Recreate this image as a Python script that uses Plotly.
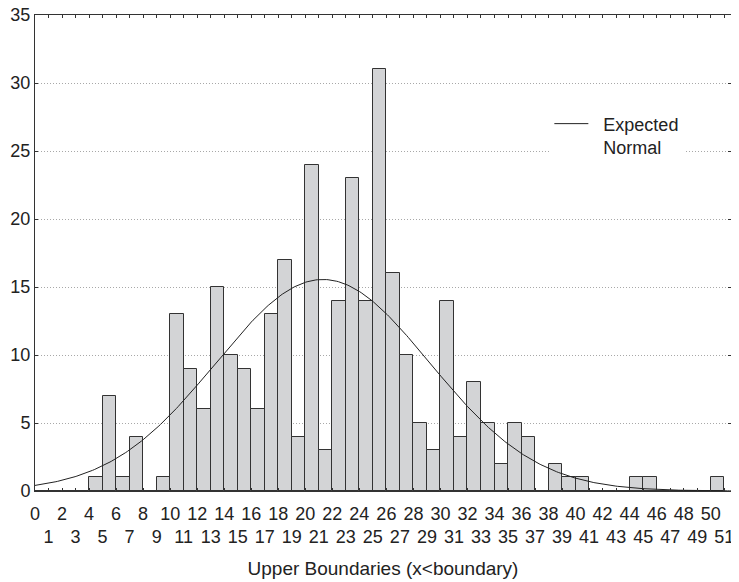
import numpy as np
import plotly.graph_objects as go

# Histogram: upper boundaries and counts (bin = [upper-1, upper))
upper_bounds = list(range(1, 52))
counts = [0, 0, 0, 0, 1, 7, 1, 4, 0, 1,
          13, 9, 6, 15, 10, 9, 6, 13, 17, 4,
          24, 3, 14, 23, 14, 31, 16, 10, 5, 3,
          14, 4, 8, 5, 2, 5, 4, 0, 2, 1,
          1, 0, 0, 0, 1, 1, 0, 0, 0, 0,
          1]
tick_values = list(range(0, 52))
tick_labels = [str(v) if v % 2 == 0 else "<br>" + str(v) for v in tick_values]
y_ticks = [0, 5, 10, 15, 20, 25, 30, 35]

# Expected normal parameters
normal_mean = 21.3
normal_sd = 7.9
n_total = sum(counts)
bin_width = 1.0

bar_x = [u - bin_width / 2 for u in upper_bounds]
curve_x = np.linspace(0, 51.5, 400)
curve_y = n_total * bin_width / (normal_sd * np.sqrt(2 * np.pi)) * np.exp(
    -((curve_x - normal_mean) ** 2) / (2 * normal_sd ** 2))

fig = go.Figure()
fig.add_trace(go.Bar(
    x=bar_x, y=counts, width=bin_width,
    marker=dict(color="#d3d4d6", line=dict(color="#333333", width=1)),
    showlegend=False, hoverinfo="x+y"))
fig.add_trace(go.Scatter(
    x=curve_x, y=curve_y, mode="lines",
    line=dict(color="#222222", width=1),
    name="\u00a0\u00a0Expected<br>\u00a0\u00a0Normal"))

font_family = "Liberation Sans, Arial, sans-serif"
# The page body has an 8px default margin, so the figure is sized to fit
fig.update_layout(
    width=731, height=574,
    margin=dict(l=27, r=8, t=7, b=91),
    paper_bgcolor="white", plot_bgcolor="white",
    font=dict(family=font_family, color="#222222", size=18),
    bargap=0,
    legend=dict(x=0.739, y=0.81, xanchor="left", yanchor="top",
                bgcolor="white", borderwidth=0, valign="top",
                font=dict(size=18, family=font_family, color="#222222"),
                itemwidth=34, tracegroupgap=0),
    xaxis=dict(range=[0, 51.5], tickmode="array", tickvals=tick_values,
               ticktext=tick_labels, ticks="inside", ticklen=3,
               tickcolor="#333333", showline=True, linecolor="#333333",
               linewidth=1, mirror="ticks", showgrid=False, zeroline=False,
               tickangle=0, tickfont=dict(size=18), automargin=False,
               ticklabelstandoff=6, ticklabeloverflow="allow",
               title=dict(text="Upper Boundaries (x<boundary)",
                          font=dict(size=19), standoff=15)),
    yaxis=dict(range=[0, 35], tickmode="array", tickvals=y_ticks,
               ticks="inside", ticklen=3, tickcolor="#333333",
               showline=True, linecolor="#333333", linewidth=1,
               mirror="ticks", showgrid=True, gridcolor="#a8a8a8",
               griddash="1px,2px", gridwidth=1, zeroline=False,
               tickfont=dict(size=18), automargin=False,
               ticklabeloverflow="allow"),
)

fig.write_html("out.html")
